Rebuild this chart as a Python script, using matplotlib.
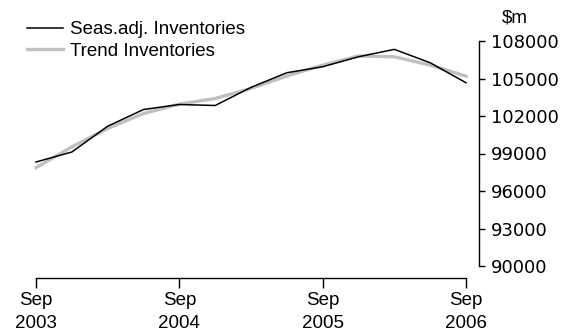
import matplotlib
matplotlib.use("Agg")
import matplotlib.pyplot as plt

quarters = ["Sep 2003", "Dec 2003", "Mar 2004", "Jun 2004", "Sep 2004", "Dec 2004",
            "Mar 2005", "Jun 2005", "Sep 2005", "Dec 2005", "Mar 2006", "Jun 2006", "Sep 2006"]
seas_adj = [98320, 99120, 101180, 102520, 102920, 102840, 104290, 105460, 105940,
            106740, 107330, 106260, 104660]
trend = [97870, 99530, 101000, 102200, 102950, 103400, 104200, 105200, 106070,
         106800, 106740, 106070, 105190]
xtick_pos = [0, 4, 8, 12]
xtick_labels = ["Sep\n2003", "Sep\n2004", "Sep\n2005", "Sep\n2006"]
yticks = [90000, 93000, 96000, 99000, 102000, 105000, 108000]

plt.rcParams['font.family'] = ['Liberation Sans', 'DejaVu Sans']
fs = 13.5

W, H = 565, 336
fig = plt.figure(figsize=(W / 100, H / 100), dpi=100)
ax = fig.add_axes([36 / W, (H - 266) / H, (466 - 36) / W, (266 - 41) / H])

x = list(range(len(quarters)))
ax.plot(x, trend, color="#c0c0c0", lw=2.4, label="Trend Inventories", clip_on=False, zorder=2)
ax.plot(x, seas_adj, color="black", lw=1.1, label="Seas.adj. Inventories", clip_on=False, zorder=3)

ax.set_xlim(0, 12)
ax.set_ylim(90000, 108000)

for s in ["top", "left"]:
    ax.spines[s].set_visible(False)
ax.spines["bottom"].set_position(("outward", 12 * 0.72))
ax.spines["right"].set_position(("outward", 13 * 0.72))
ax.spines["bottom"].set_bounds(0, 12)
ax.spines["right"].set_bounds(90000, 108000)
ax.spines["bottom"].set_linewidth(1.0)
ax.spines["right"].set_linewidth(1.0)

ax.yaxis.tick_right()
ax.set_yticks(yticks)
ax.set_yticklabels([str(v) for v in yticks], fontsize=13, family=['DejaVu Sans'])
ax.tick_params(axis="y", direction="out", length=4, width=1.0, pad=4.5, colors="black")

ax.set_xticks(xtick_pos)
ax.set_xticklabels(xtick_labels, fontsize=fs, linespacing=1.44)
ax.tick_params(axis="x", direction="out", length=7, width=1.0, pad=3, colors="black")

fig.text(515 / W, 1 - 18 / H, "$m", fontsize=fs, ha="center", va="center")

handles, labels = ax.get_legend_handles_labels()
leg = fig.legend(handles[::-1], labels[::-1], loc="upper left",
                 bbox_to_anchor=(27 / W, 1 - 21 / H), frameon=False, fontsize=fs,
                 handlelength=1.9, handletextpad=0.37, labelspacing=0.23,
                 borderaxespad=0, borderpad=0)

fig.savefig("out.png", dpi=100)
